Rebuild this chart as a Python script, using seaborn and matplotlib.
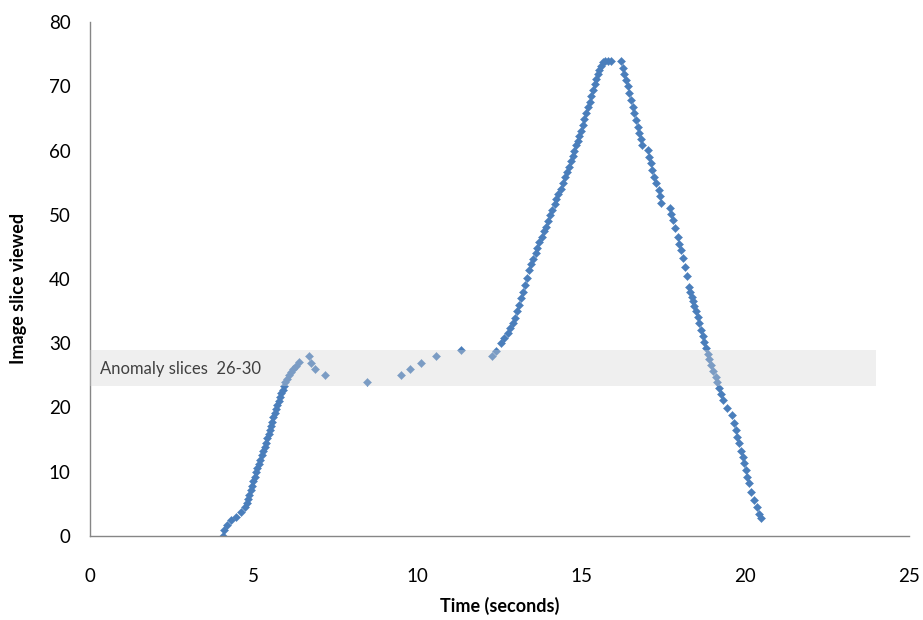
import matplotlib
matplotlib.use("Agg")
import matplotlib.pyplot as plt
import seaborn as sns
import pandas as pd

# ---- data ----
rise1_time = [4.05, 4.10, 4.18, 4.30, 4.47, 4.62, 4.72, 4.78, 4.82, 4.86, 4.90, 4.94, 4.98,
              5.03, 5.07, 5.11, 5.15, 5.19, 5.24, 5.28, 5.33, 5.37, 5.41, 5.45, 5.48, 5.52,
              5.56, 5.60, 5.64, 5.68, 5.72, 5.76, 5.80, 5.84, 5.88, 5.92, 5.96, 6.01, 6.07,
              6.13, 6.20, 6.28, 6.38, 6.70, 6.76, 6.86, 7.18]
rise1_slice = [0, 1, 1.7, 2.5, 3, 3.8, 4.5, 5.1, 5.8, 6.4, 7.1, 7.8, 8.5,
               9.2, 9.9, 10.6, 11.2, 11.9, 12.6, 13.2, 13.9, 14.5, 15.2, 15.9, 16.5, 17.1,
               17.8, 18.5, 19.1, 19.7, 20.4, 21.0, 21.6, 22.2, 22.8, 23.4, 23.9, 24.5, 25.0,
               25.5, 26.0, 26.5, 27.1, 28.0, 27.0, 26.0, 25.0]

pause_time = [8.45, 9.50, 9.77, 10.09, 10.55, 11.33]
pause_slice = [24, 25, 26, 27, 28, 29]

rise2_time = [12.28, 12.40, 12.55, 12.65, 12.75, 12.83, 12.90, 12.97, 13.04, 13.10, 13.17,
              13.23, 13.29, 13.35, 13.41, 13.47, 13.53, 13.60, 13.66, 13.72, 13.79, 13.85,
              13.92, 13.98, 14.05, 14.11, 14.18, 14.24, 14.30, 14.37, 14.43, 14.49, 14.55,
              14.61, 14.67, 14.73, 14.79, 14.85, 14.90, 14.94, 14.99, 15.04, 15.09, 15.14,
              15.19, 15.25, 15.30, 15.35, 15.41, 15.46, 15.51, 15.55, 15.60, 15.66, 15.72,
              15.80, 15.90, 16.21]
rise2_slice = [28, 28.8, 30, 30.8, 31.6, 32.4, 33.1, 34, 35, 36, 37,
               38, 39, 40.2, 41.4, 42.3, 43.1, 44, 44.9, 45.7, 46.6, 47.4,
               48.1, 49, 49.9, 50.8, 51.6, 52.4, 53.2, 54, 54.9, 55.8, 56.6,
               57.5, 58.3, 59.1, 60, 60.8, 61.5, 62.2, 63.1, 64, 64.9, 65.8,
               66.7, 67.6, 68.5, 69.4, 70.3, 71.2, 71.9, 72.5, 73.2, 73.8, 74,
               74, 74, 74]

fall_time = [16.26, 16.31, 16.36, 16.41, 16.46, 16.52, 16.57, 16.62, 16.67, 16.72, 16.77,
             16.81, 16.85, 17.02, 17.07, 17.12, 17.17, 17.23, 17.29, 17.36, 17.40, 17.43,
             17.70, 17.75, 17.80, 17.87, 17.94, 17.99, 18.04, 18.10, 18.17, 18.22, 18.27,
             18.32, 18.37, 18.41, 18.45, 18.50, 18.55, 18.60, 18.65, 18.70, 18.75, 18.80,
             18.85, 18.90, 18.95, 19.02, 19.10, 19.15, 19.20, 19.26, 19.31, 19.46, 19.61,
             19.66, 19.71, 19.76, 19.82, 19.87, 19.92, 19.97, 20.02, 20.07, 20.12, 20.19,
             20.27, 20.35, 20.43, 20.48]
fall_slice = [72.8, 71.9, 71, 70, 68.9, 67.9, 66.8, 65.8, 64.7, 63.7, 62.7,
              61.8, 60.9, 60.1, 59, 58, 57, 55.9, 54.9, 53.9, 52.9, 51.9,
              51, 50.1, 49.2, 47.9, 46.6, 45.5, 44.5, 43.2, 41.9, 40.4, 38.8,
              38, 37.2, 36.5, 35.8, 35, 34.1, 33.1, 32.1, 31.2, 30.2, 29.3,
              28.4, 27.5, 26.6, 25.7, 24.8, 23.9, 23, 22.1, 21.2, 19.9, 18.8,
              17.6, 16.5, 15.4, 14.4, 13.3, 12.3, 11.3, 10.3, 9.2, 8.2, 6.9,
              5.6, 4.5, 3.5, 2.8]

band_low, band_high = 23.3, 29.0
band_x_end = 24.0
band_label = "Anomaly slices  26-30"
x_ticks = [0, 5, 10, 15, 20, 25]
y_ticks = [0, 10, 20, 30, 40, 50, 60, 70, 80]

df = pd.DataFrame({
    "time": rise1_time + pause_time + rise2_time + fall_time,
    "slice": rise1_slice + pause_slice + rise2_slice + fall_slice,
})

# ---- plot ----
sns.set_theme(style="white")
plt.rcParams["font.family"] = ["Lato", "DejaVu Sans"]

fig = plt.figure(figsize=(9.23, 6.2), dpi=100)
ax = fig.add_axes([0.0975, 0.1355, 0.8873, 0.829])

sns.scatterplot(data=df, x="time", y="slice", ax=ax, marker="D", s=17,
                color="#4A7EBB", edgecolor="#4A7EBB", linewidth=0.3, zorder=2)

# anomaly band drawn over the points (semi-transparent)
ax.fill_between([0, band_x_end], band_low, band_high, color="#d4d4d4",
                alpha=0.36, linewidth=0, zorder=3)
ax.text(0.32, (band_low + band_high) / 2 - 0.2, band_label, fontsize=12,
        color="#404040", va="center", ha="left", zorder=4)

ax.set_xlim(0, 25)
ax.set_ylim(0, 80)
ax.set_xticks(x_ticks)
ax.set_yticks(y_ticks)
ax.set_xticklabels([str(v) for v in x_ticks])
ax.set_yticklabels([str(v) for v in y_ticks])

for side in ["top", "right"]:
    ax.spines[side].set_visible(False)
for side in ["left", "bottom"]:
    ax.spines[side].set_color("#868686")
    ax.spines[side].set_linewidth(1.0)

ax.tick_params(axis="both", which="major", direction="out", length=5,
               width=1.0, color="#868686", labelsize=13.5, labelcolor="#000000")
ax.tick_params(axis="x", pad=18)
ax.tick_params(axis="y", pad=9)

ax.set_xlabel("Time (seconds)", fontsize=13, fontweight="bold", color="#000000")
ax.set_ylabel("Image slice viewed", fontsize=13, fontweight="bold", color="#000000")
ax.xaxis.set_label_coords(0.5, -0.118)
ax.yaxis.set_label_coords(-0.077, 0.482)

fig.savefig("out.png", dpi=100)
